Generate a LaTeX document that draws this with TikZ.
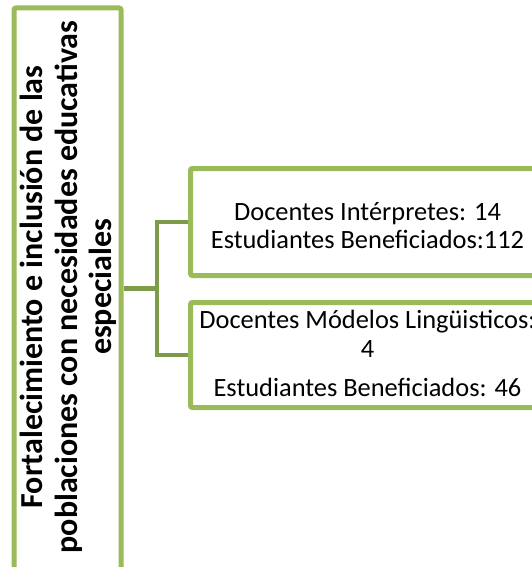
\documentclass[tikz,border=0pt]{standalone}
\usepackage{fontspec}
\setmainfont{Carlito}
\definecolor{boxgreen}{RGB}{155,187,89}
\definecolor{conngreen}{RGB}{126,156,72}
\tikzset{
  greenbox/.style={draw=boxgreen, line width=5pt, rounded corners=2pt, fill=white, inner sep=0pt},
  conn/.style={draw=conngreen, line width=4.5pt},
  lefttxt/.style={rotate=90, anchor=base, inner sep=0pt, font=\bfseries\fontsize{32pt}{34pt}\selectfont},
  righttxt/.style={anchor=base, inner sep=0pt, font=\fontsize{26.4pt}{28pt}\selectfont}
}
\begin{document}
\begin{tikzpicture}[x=1pt, y=-1pt]
\useasboundingbox (0,0) rectangle (532,567);
\clip (0,0) rectangle (532,567);
% boxes
\node[greenbox, minimum width=107pt, minimum height=572pt] (leftbox) at (67.5,294) {};
\node[greenbox, minimum width=359.5pt, minimum height=107pt] (box1) at (370.25,222) {};
\node[greenbox, minimum width=359.5pt, minimum height=105pt] (box2) at (370.25,355) {};
% connectors
\coordinate (j) at (157,288.5);
\draw[conn] (leftbox.east |- j) -- (j);
\draw[conn] (box1.west) -| (j);
\draw[conn] (box2.west) -| (j);
% left text
\node[lefttxt] (l1) at (42,287) {Fortalecimiento e inclusión de las};
\node[lefttxt] (l2) at (77,287) {poblaciones con necesidades educativas};
\node[lefttxt] (l3) at (111,287) {especiales};
% right texts
\node[righttxt] (t1) at (367.5,220) {Docentes Intérpretes: 14};
\node[righttxt] (t2) at (367.5,248) {Estudiantes Beneficiados:112};
\node[righttxt] (t3) at (367.5,328) {Docentes Módelos Lingüisticos:};
\node[righttxt] (t4) at (367.5,357) {4};
\node[righttxt] (t5) at (367.5,396) {Estudiantes Beneficiados: 46};
\end{tikzpicture}
\end{document}
